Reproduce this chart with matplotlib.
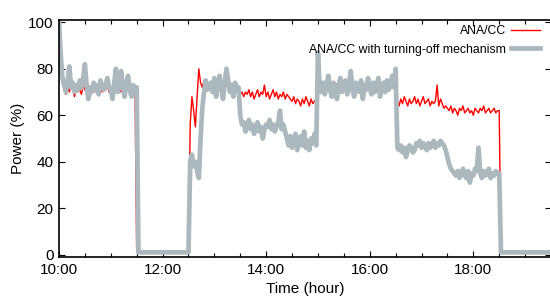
import numpy as np
import matplotlib
matplotlib.use("Agg")
import matplotlib.pyplot as plt
from matplotlib.ticker import MultipleLocator, FuncFormatter

# power samples every 2 minutes, 10:00 -> 19:30
IDLE = 1
step_min = 2

ana_cc = (
    # 10:00 - 10:58
    [100, 84, 74, 71, 69, 72, 70, 73, 71, 68, 72, 70, 71, 69, 73,
     71, 70, 72, 68, 71, 73, 70, 72, 69, 71, 70, 72, 71, 73, 70]
    # 11:00 - 11:28
    + [71, 69, 72, 70, 73, 71, 70, 72, 69, 71, 73, 70, 68, 71, 72]
    # 11:30 - 12:30 off
    + [IDLE] * 31
    # 12:32 - 12:50
    + [56, 68, 62, 55, 68, 80, 74, 72, 75, 73]
    # 12:52 - 13:28
    + [74, 72, 73, 75, 72, 74, 73, 71, 74, 72, 73, 75, 72, 74, 71, 73, 72, 70, 72]
    # 13:30 - 14:28
    + [69, 70, 68, 70, 69, 71, 68, 70, 67, 69, 71, 68, 70, 69, 73,
       68, 70, 67, 69, 71, 68, 70, 67, 69, 68, 70, 67, 69, 68, 67]
    # 14:30 - 14:58
    + [66, 68, 65, 67, 66, 64, 67, 65, 68, 66, 64, 67, 65, 66, 67]
    # 15:00 - 16:28
    + [73, 72, 74, 71, 73, 72, 74, 73, 71, 72, 74, 73, 72, 71, 73,
       74, 72, 73, 71, 72, 74, 72, 73, 71, 74, 72, 73, 72, 71, 73,
       74, 72, 73, 71, 72, 74, 73, 72, 71, 73, 72, 74, 75, 73, 76]
    # 16:30 - 17:28
    + [78, 66, 64, 67, 65, 68, 66, 64, 67, 65, 66, 68, 65, 67, 64,
       66, 68, 65, 66, 67, 64, 66, 65, 66, 73, 64, 67, 65, 63, 64]
    # 17:30 - 18:30
    + [63, 62, 64, 61, 63, 62, 60, 63, 62, 64, 61, 62, 63, 61, 62, 60,
       63, 62, 61, 63, 62, 64, 61, 62, 63, 61, 62, 63, 61, 62, 62]
    # 18:32 - 19:30 off
    + [IDLE] * 30
)

turning_off = (
    # 10:00 - 10:58
    [100, 86, 76, 73, 70, 75, 81, 72, 74, 70, 73, 71, 75, 72, 76,
     82, 73, 67, 72, 70, 74, 71, 73, 69, 75, 72, 71, 73, 76, 72]
    # 11:00 - 11:30
    + [71, 67, 74, 80, 70, 73, 79, 72, 68, 74, 77, 71, 68, 73, 72, 72]
    # 11:32 - 12:30 off
    + [IDLE] * 30
    # 12:32 - 12:52
    + [40, 43, 38, 40, 36, 33, 50, 63, 70, 75, 71]
    # 12:54 - 13:28
    + [73, 74, 70, 76, 68, 73, 77, 72, 67, 74, 80, 75, 70, 73, 68, 74, 71, 72]
    # 13:30 - 14:22
    + [60, 56, 57, 53, 55, 58, 54, 56, 52, 55, 57, 53, 55, 50,
       54, 56, 55, 58, 54, 56, 53, 55, 57, 62, 54, 56, 53]
    # 14:24 - 14:58
    + [50, 47, 51, 46, 49, 52, 45, 48, 51, 47, 53, 46, 49, 45, 50, 48, 52, 47]
    # 15:00 - 16:28
    + [87, 72, 70, 74, 69, 73, 77, 71, 68, 74, 72, 67, 73, 76, 70,
       72, 75, 69, 73, 79, 71, 68, 74, 72, 70, 75, 67, 73, 71, 76,
       72, 69, 74, 70, 73, 76, 68, 72, 74, 70, 75, 71, 73, 77, 72]
    # 16:30 - 17:26
    + [80, 46, 45, 47, 44, 46, 42, 45, 47, 46, 44, 45, 48, 47, 49,
       46, 48, 47, 45, 48, 46, 47, 49, 46, 48, 47, 49, 48, 47]
    # 17:28 - 17:36
    + [45, 42, 39, 37, 36]
    # 17:38 - 18:30
    + [35, 34, 36, 33, 35, 37, 34, 33, 36, 31, 35, 34, 37, 36,
       46, 35, 33, 36, 34, 35, 37, 33, 35, 34, 36, 35, 35]
    # 18:32 - 19:30 off
    + [IDLE] * 30
)

hours = 10 + np.arange(len(ana_cc)) * step_min / 60.0
hours_g = 10 + np.arange(len(turning_off)) * step_min / 60.0

plt.rcParams['font.family'] = ['Liberation Sans', 'DejaVu Sans']

fig = plt.figure(figsize=(5.5, 2.98), dpi=100)
ax = fig.add_axes([59 / 550, 1 - 257 / 298, 492 / 550, 237 / 298])

ax.plot(hours, ana_cc, color='#ff0000', lw=1.0, label='ANA/CC')
ax.plot(hours_g, turning_off, color='#abb8be', lw=3.4,
        label='ANA/CC with turning-off mechanism')

ax.set_xlim(10, 19.5)
ax.set_ylim(-1, 101)
ax.xaxis.set_major_locator(MultipleLocator(2))
ax.xaxis.set_minor_locator(MultipleLocator(0.5))
ax.xaxis.set_major_formatter(FuncFormatter(lambda x, p: "%d:%02d" % (int(x), round((x % 1) * 60))))
ax.yaxis.set_major_locator(MultipleLocator(20))
ax.tick_params(which='both', direction='in', top=True, right=True, labelsize=11, width=0.8)
ax.tick_params(which='major', length=4, pad=4)
ax.tick_params(which='minor', length=3)
for s in ax.spines.values():
    s.set_linewidth(1.2)

ax.set_xlabel('Time (hour)', fontsize=11, labelpad=4)
ax.set_ylabel('Power (%)', fontsize=11, labelpad=2)

ax.legend(loc='upper right', bbox_to_anchor=(540 / 550, 1 - 25 / 298),
          bbox_transform=fig.transFigure, markerfirst=False, frameon=False,
          fontsize=8.8, handlelength=2.4, handletextpad=0.4, labelspacing=0.55,
          borderaxespad=0, borderpad=0)

fig.savefig('out.png', dpi=100)
